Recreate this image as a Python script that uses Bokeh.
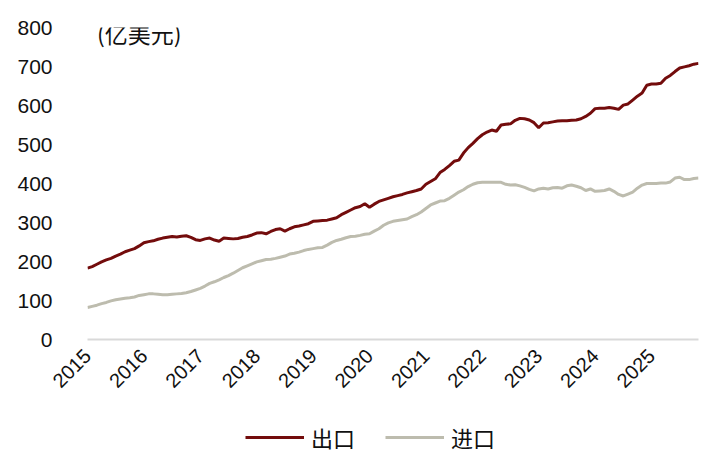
from bokeh.plotting import figure
from bokeh.layouts import column
from bokeh.models import ColumnDataSource, FixedTicker, Legend, LegendItem, Label
from bokeh.embed import file_html
from bokeh.resources import INLINE
import math

# Monthly series, Jan 2015 .. Nov 2025 (亿美元)
start_year = 2015
export_vals = [
    183, 187, 193, 199, 204, 208, 214, 219, 225, 229, 233, 240,
    248, 251, 253, 257, 260, 262, 264, 263, 265, 266, 262, 256,
    254, 258, 260, 255, 252, 260, 259, 258, 259, 262, 264, 268,
    273, 274, 271, 277, 282, 284, 278, 284, 289, 291, 294, 297,
    303, 304, 305, 306, 309, 312, 320, 326, 332, 338, 341, 348,
    339, 347, 354, 358, 362, 366, 369, 372, 376, 379, 382, 386,
    398, 405, 412, 428, 436, 446, 457, 460, 478, 492, 503, 515,
    525, 532, 537, 534, 550, 552, 553, 562, 567, 566, 563, 556,
    543, 555, 556, 558, 560, 561, 561, 562, 563, 566, 572, 580,
    592, 593, 593, 595, 593, 590, 601, 604, 614, 624, 632, 652,
    655, 655, 657, 670, 677, 687, 696, 699, 702, 706, 708,
]
import_vals = [
    82, 85, 88, 92, 95, 99, 102, 104, 106, 107, 109, 113,
    115, 117, 117, 116, 115, 115, 116, 117, 118, 120, 123, 127,
    131, 137, 144, 148, 153, 159, 164, 170, 177, 184, 189, 194,
    199, 202, 205, 206, 208, 211, 214, 219, 221, 224, 228, 231,
    233, 235, 236, 242, 249, 254, 257, 261, 264, 265, 267, 270,
    271, 278, 284, 293, 299, 303, 305, 307, 309, 315, 320, 327,
    336, 345, 350, 355, 356, 362, 370, 378, 384, 392, 398, 402,
    403, 403, 403, 403, 403, 398, 396, 397, 394, 390, 385, 381,
    386, 388, 386, 389, 390, 388, 394, 396, 393, 389, 382, 386,
    380, 381, 382, 386, 380, 372, 368, 373, 378, 388, 396, 400,
    400, 400, 401, 401, 404, 414, 416, 410, 410, 413, 414,
]
year_ticks = [2015, 2016, 2017, 2018, 2019, 2020, 2021, 2022, 2023, 2024, 2025]
y_ticks = [0, 100, 200, 300, 400, 500, 600, 700, 800]
series_names = ["出口", "进口"]
colors = ["#730C0C", "#BDBCAE"]

xs = [start_year + i / 12 for i in range(len(export_vals))]
src = ColumnDataSource(dict(x=xs, exp=export_vals, imp=import_vals))

W = 704
p = figure(width=W, height=420, output_backend="svg", toolbar_location=None,
           x_range=(xs[0], xs[-1]), y_range=(0, 800),
           min_border_left=87, min_border_right=6, min_border_top=27, min_border_bottom=81)
p.outline_line_color = None
p.xgrid.grid_line_color = None
p.ygrid.grid_line_color = None

p.line("x", "exp", source=src, line_color=colors[0], line_width=3)
p.line("x", "imp", source=src, line_color=colors[1], line_width=3)

# y axis
p.yaxis.ticker = FixedTicker(ticks=y_ticks)
p.yaxis.axis_line_color = None
p.yaxis.major_tick_line_color = None
p.yaxis.minor_tick_line_color = None
p.yaxis.major_label_standoff = 29
p.yaxis.major_label_text_font = "Liberation Sans"
p.yaxis.major_label_text_font_size = "21px"
p.yaxis.major_label_text_color = "#111111"

# x axis
p.xaxis.ticker = FixedTicker(ticks=year_ticks)
p.xaxis.major_label_overrides = {y: str(y) for y in year_ticks}
p.xaxis.axis_line_color = "#D9D9D9"
p.xaxis.axis_line_width = 2
p.xaxis.major_tick_line_color = None
p.xaxis.minor_tick_line_color = None
p.xaxis.major_label_orientation = math.pi / 4
p.xaxis.major_label_standoff = 7
p.xaxis.major_label_text_font = "Liberation Sans"
p.xaxis.major_label_text_font_size = "20px"
p.xaxis.major_label_text_color = "#111111"

unit = Label(x=2015.17, y=787, text="(亿美元)", text_font="Noto Sans CJK SC",
             text_font_size="23px", text_baseline="middle", text_color="#111111")
p.add_layout(unit)

# legend strip below the chart (its legend-sample renderers sit outside the visible range)
lg = figure(width=W, height=36, output_backend="svg", toolbar_location=None,
            x_range=(0, 1), y_range=(0, 1), x_axis_location=None, y_axis_location=None,
            min_border=0)
lg.outline_line_color = None
lg.xgrid.grid_line_color = None
lg.ygrid.grid_line_color = None
hidden = ColumnDataSource(dict(x=[-5, -4], y=[-5, -5]))
l1 = lg.line("x", "y", source=hidden, line_color=colors[0], line_width=3)
l2 = lg.line("x", "y", source=hidden, line_color=colors[1], line_width=3)
legend = Legend(items=[LegendItem(label=series_names[0], renderers=[l1]),
                       LegendItem(label=series_names[1], renderers=[l2])],
                location=(158, 3), orientation="horizontal",
                label_text_font="Noto Sans CJK SC", label_text_font_size="22px",
                label_text_color="#111111",
                glyph_width=59, glyph_height=24, label_height=24, label_standoff=7,
                spacing=30, padding=0, margin=0,
                border_line_color=None, background_fill_alpha=0)
lg.add_layout(legend, "center")

layout = column(p, lg, spacing=0)
open("out.html", "w").write(file_html(layout, INLINE))
